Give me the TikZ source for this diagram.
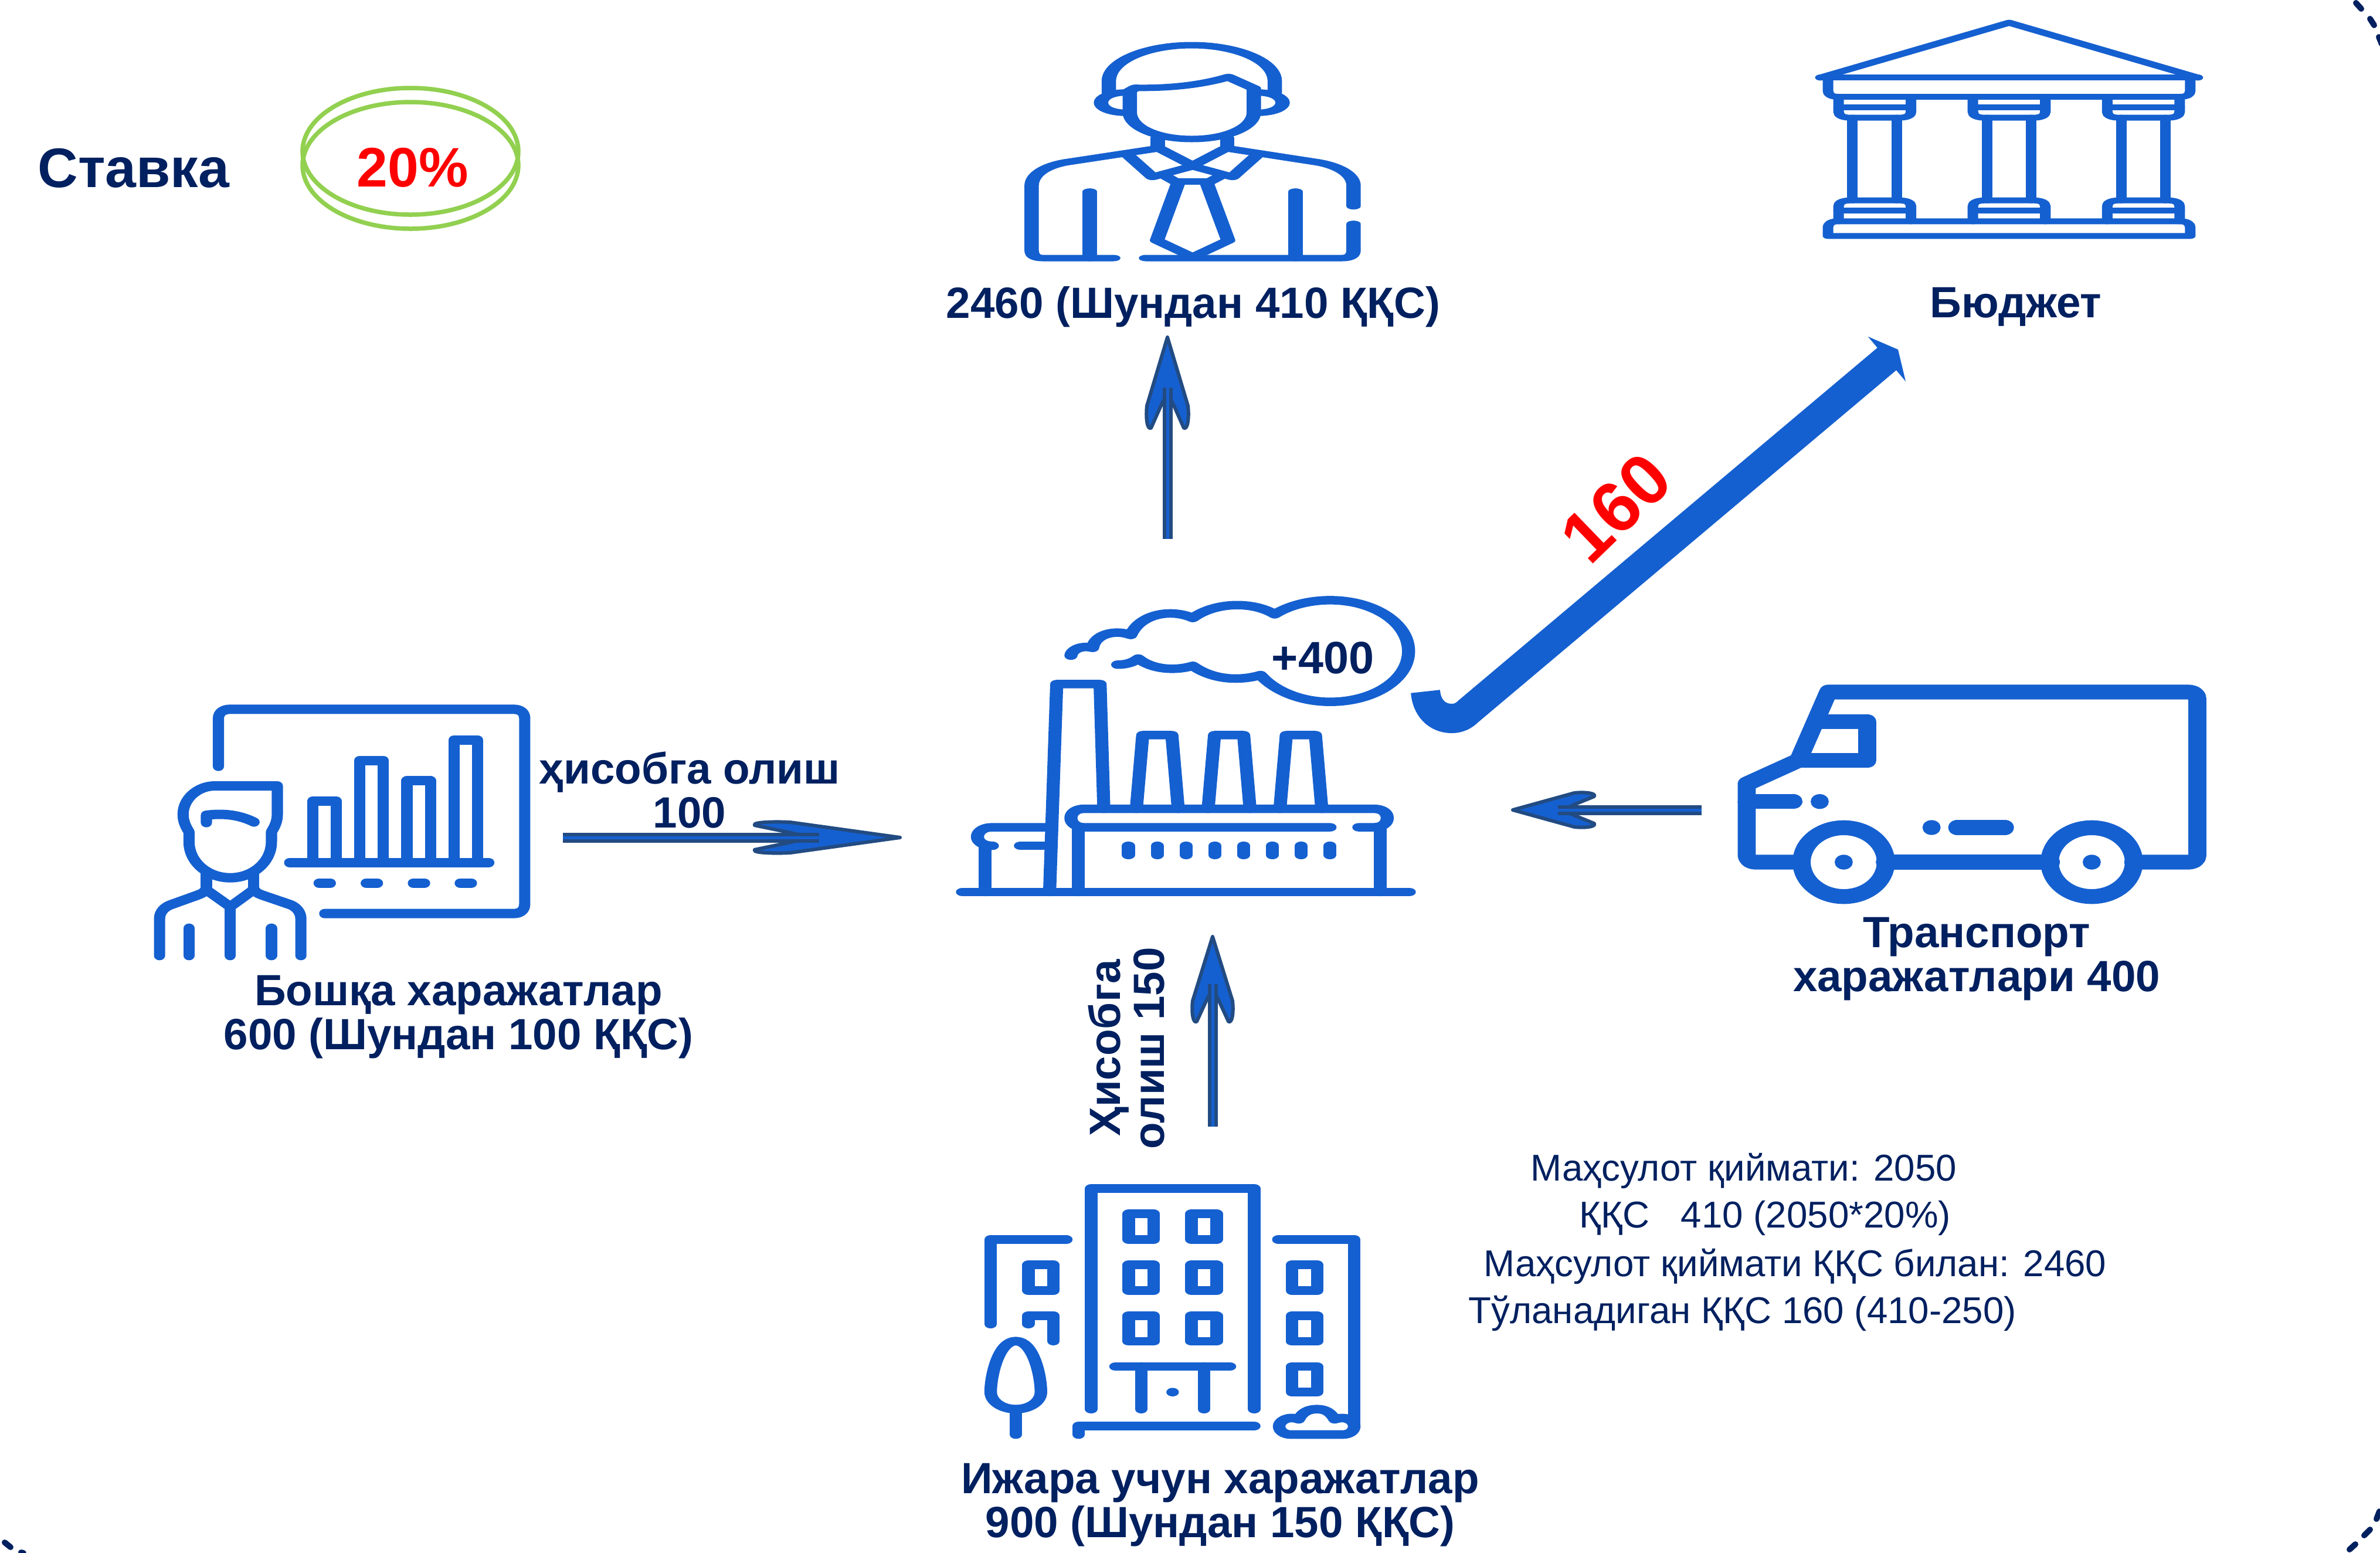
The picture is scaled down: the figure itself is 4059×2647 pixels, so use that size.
\documentclass[tikz,border=0pt]{standalone}
\usepackage{xcolor}
\usepackage{fontspec}
\setmainfont{Liberation Sans}
\usetikzlibrary{arrows.meta}
\definecolor{iconblue}{HTML}{1560D0}
\definecolor{navy}{HTML}{002060}
\definecolor{arrowdark}{HTML}{224B82}
\definecolor{ringgreen}{HTML}{92D050}
\tikzset{
    % origin x, y of the icon, then units per px in x and y, then stroke in x and y
    iconat/.style n args={6}{
        transform canvas={shift={(#1*0.01cm,-#2*0.01cm)}, xscale=(#5/#6)/#3, yscale=1/#4},
        x=0.01cm*#6/#5, y=-0.01cm, line width=#6*0.01cm,
        draw=iconblue, line cap=round, line join=round},
    label/.style={font=\fontsize{21.2}{21.3}\selectfont\bfseries, text=navy, align=center, inner sep=0pt},
    note/.style={font=\fontsize{18.1}{20}\selectfont, text=navy, anchor=west, inner sep=0pt},
    flowshaft/.style={draw=arrowdark, line width=0.06cm, double=iconblue, double distance=0.05cm, shorten >=#1*0.00545cm},
    % head of a flow arrow: length, width; tip at the origin, pointing along x
    pics/flowhead/.style 2 args={code={
        \draw[draw=arrowdark, fill=iconblue, line width=0.06cm, line join=round, line cap=round]
            (0,0) -- ({-0.74*#1},{0.5*#2}) .. controls ({-0.86*#1},{0.53*#2}) and ({-1.0*#1},{0.5*#2}) .. ({-0.98*#1},{0.4*#2})
            -- ({-0.74*#1},{0.16*#2}) -- ({-0.6*#1},0) -- ({-0.74*#1},{-0.16*#2})
            -- ({-0.98*#1},{-0.4*#2}) .. controls ({-1.0*#1},{-0.5*#2}) and ({-0.86*#1},{-0.53*#2}) .. ({-0.74*#1},{-0.5*#2}) -- cycle;
    }},
    edgemark/.style={draw=navy, line width=0.1cm, line cap=round},
}
\begin{document}
\begin{tikzpicture}[x=0.01cm, y=-0.01cm]
    \useasboundingbox (0,0) rectangle (4059,2647);

    % rate
    \node[label, font=\fontsize{27}{30}\selectfont\bfseries] (stavka) at (228,287) {Ставка};
    \draw[ringgreen, line width=0.075cm] (700,258) ellipse [x radius=184, y radius=108];
    \draw[ringgreen, line width=0.075cm] (700,282) ellipse [x radius=184, y radius=108];
    \node[label, font=\fontsize{27}{30}\selectfont\bfseries, text=red] (rate) at (704,286) {20\%};

    % factory
    \begin{scope}[iconat={1600}{950}{1.568}{2.412}{35}{35}]
        \draw (65,1377) -- (1260,1377);
        \draw (300,1111) -- (143,1111) .. controls (120,1111) and (105,1130) .. (105,1150) .. controls (105,1170) and (120,1187) .. (145,1187);
        \draw (125,1187) -- (125,1377);
        \draw (220,1187) -- (298,1187);
        \draw (298,1377) -- (317,522) -- (433,522) -- (443,1035);
        \foreach \dx in {0,192,384} {
            \draw[shift={(\dx,0)}] (530,1035) -- (547,732) -- (625,732) -- (642,1035);
        }
        \draw (1048,1111) -- (390,1111) .. controls (370,1111) and (355,1095) .. (355,1073) .. controls (355,1050) and (370,1035) .. (390,1035)
            -- (1165,1035) .. controls (1187,1035) and (1201,1050) .. (1201,1073) .. controls (1201,1095) and (1187,1111) .. (1165,1111) -- (1125,1111);
        \draw (375,1111) -- (375,1377);
        \draw (1182,1111) -- (1182,1377);
        \foreach \wx in {509,586,663,740,817,894,971,1048} {
            \draw (\wx,1187) -- (\wx,1225);
        }
        \draw (355,405) .. controls (355,385) and (380,360) .. (413,373)
            .. controls (418,320) and (470,295) .. (515,320)
            .. controls (540,235) and (620,210) .. (681,250)
            .. controls (740,185) and (840,180) .. (900,235)
            .. controls (940,197) and (995,177) .. (1048,177)
            .. controls (1165,177) and (1258,270) .. (1258,387)
            .. controls (1258,503) and (1165,595) .. (1048,595)
            .. controls (970,595) and (900,550) .. (862,485)
            .. controls (805,510) and (735,505) .. (681,447)
            .. controls (630,470) and (570,460) .. (535,417)
            .. controls (520,435) and (500,442) .. (480,442);
    \end{scope}
    \node[label, font=\fontsize{22}{24}\selectfont\bfseries] (plus) at (2256,1122) {+400};

    % employee
    \begin{scope}[iconat={1700}{40}{2.24}{3}{55}{33}]
        \draw (428,355) -- (428,295) .. controls (428,190) and (575,111) .. (745,111) .. controls (915,111) and (1062,190) .. (1062,295) -- (1062,355);
        \draw (508,455) -- (508,345) -- (530,329) .. controls (660,332) and (780,315) .. (885,274) -- (982,332) -- (982,455)
            .. controls (982,530) and (880,591) .. (745,591) .. controls (610,591) and (508,530) .. (508,455) -- cycle;
        \draw (495,353) .. controls (440,353) and (398,375) .. (398,405) .. controls (398,435) and (440,457) .. (495,457);
        \draw (995,353) .. controls (1050,353) and (1092,375) .. (1092,405) .. controls (1092,435) and (1050,457) .. (995,457);
        \draw (615,585) -- (615,640);
        \draw (880,585) -- (880,640);
        \draw (625,642) -- (748,727) -- (870,642);
        \draw (500,672) -- (595,785) -- (748,730) -- (900,785) -- (995,672);
        \draw (610,640) -- (265,710) .. controls (190,727) and (133,770) .. (133,830) -- (133,1160) .. controls (133,1190) and (150,1200) .. (175,1200) -- (445,1200);
        \draw (885,640) -- (1225,710) .. controls (1300,727) and (1363,770) .. (1363,830) -- (1363,935);
        \draw (1363,1025) -- (1363,1160) .. controls (1363,1190) and (1345,1200) .. (1320,1200) -- (570,1200);
        \draw (355,860) -- (355,1200);
        \draw (1141,860) -- (1141,1200);
        \draw (695,808) -- (612,1110) -- (748,1195) -- (884,1110) -- (800,808) -- cycle;
        \draw (650,785) -- (690,815);
        \draw (848,785) -- (805,815);
    \end{scope}
    \node[label] (salary) at (2035,523) {2460 (Шундан 410 ҚҚС)};

    % budget
    \begin{scope}[iconat={3050}{0}{1.554}{3}{28}{30}]
        \draw (85,397) -- (585,116) -- (1085,397);
        \draw (85,397) -- (1085,397);
        \draw (105,400) -- (105,465) .. controls (105,485) and (115,495) .. (132,495) -- (1038,495) .. controls (1055,495) and (1065,485) .. (1065,465) -- (1065,400);
        \draw (105,1207) -- (105,1165) .. controls (105,1142) and (115,1132) .. (132,1132) -- (1038,1132) .. controls (1055,1132) and (1065,1142) .. (1065,1165) -- (1065,1207) -- cycle;
        \foreach \dx in {0,356,712} {
            \begin{scope}[shift={(\dx,0)}]
                \draw (133,495) -- (133,572) .. controls (133,592) and (145,602) .. (165,602) -- (293,602) .. controls (313,602) and (325,592) .. (325,572) -- (325,495);
                \draw (133,548) -- (325,548);
                \draw (170,602) -- (170,1025);
                \draw (287,602) -- (287,1025);
                \draw (133,1132) -- (133,1055) .. controls (133,1035) and (145,1025) .. (165,1025) -- (293,1025) .. controls (313,1025) and (325,1035) .. (325,1055) -- (325,1132);
                \draw (133,1078) -- (325,1078);
            \end{scope}
        }
    \end{scope}
    \node[label] (budget) at (3438,523) {Бюджет};

    % other costs
    \begin{scope}[iconat={230}{1170}{2.09}{3}{40}{48}]
        \draw (298,410) -- (298,165) .. controls (298,135) and (315,118) .. (340,118) -- (1350,118) .. controls (1375,118) and (1390,135) .. (1390,165)
            -- (1390,1115) .. controls (1390,1145) and (1375,1163) .. (1350,1163) -- (677,1163);
        \draw (552,902) -- (1262,902);
        \foreach \bx/\by in {634/588,802/380,970/484,1138/275} {
            \draw (\bx,902) -- (\bx,\by) -- ({\bx+84},\by) -- ({\bx+84},902);
        }
        \foreach \dx in {657,825,993,1160} {
            \draw (\dx,1007) -- ({\dx+40},1007);
        }
        \draw (487,745) -- (487,795) .. controls (487,900) and (420,980) .. (340,980) .. controls (260,980) and (193,900) .. (193,795) -- (193,745)
            .. controls (180,715) and (172,690) .. (172,655) .. controls (172,575) and (225,510) .. (285,510) -- (508,510) -- (508,655)
            .. controls (508,690) and (500,715) .. (487,745) -- cycle;
        \draw (255,698) -- (255,660) .. controls (320,648) and (375,660) .. (425,695);
        \draw (255,960) -- (255,1025);
        \draw (423,960) -- (423,1025);
        \draw (258,1045) -- (340,1128) -- (420,1045);
        \draw (340,1128) -- (340,1378);
        \draw (255,1025) .. controls (255,1050) and (240,1060) .. (225,1068) -- (128,1118) .. controls (105,1130) and (88,1155) .. (88,1190) -- (88,1378);
        \draw (423,1025) .. controls (423,1050) and (438,1060) .. (453,1068) -- (555,1118) .. controls (575,1130) and (592,1155) .. (592,1190) -- (592,1378);
        \draw (193,1238) -- (193,1378);
        \draw (487,1238) -- (487,1378);
    \end{scope}
    \node[label] (other) at (782,1734) {Бошқа харажатлар\\600 (Шундан 100 ҚҚС)};
    \node[label] (otherrec) at (1176,1347) {ҳисобга олиш\\100};

    % transport
    \begin{scope}[iconat={2920}{1140}{1.782}{3}{55}{76}]
        \draw (272,990) -- (135,990) .. controls (115,990) and (105,975) .. (105,950) -- (105,590) -- (262,470) -- (353,120) -- (1445,120)
            .. controls (1465,120) and (1475,135) .. (1475,155) -- (1475,955) .. controls (1475,975) and (1465,990) .. (1445,990) -- (1280,990);
        \draw (525,990) -- (1030,990);
        \draw (325,272) -- (472,272) -- (472,470) -- (262,470);
        \draw (105,680) -- (247,680);
        \draw (400,990) ellipse [x radius=128, y radius=176];
        \draw (1154,990) ellipse [x radius=128, y radius=176];
        \foreach \px/\py in {327/680,400/990,1154/990,667/813} {
            \draw (\px,\py) -- (\px,\py);
        }
        \draw (745,813) -- (890,813);
    \end{scope}
    \node[label] (transport) at (3371,1635) {Транспорт\\харажатлари 400};

    % rent
    \begin{scope}[iconat={1640}{2000}{2.24}{3}{48}{44}]
        \draw (495,1208) -- (495,80) -- (1118,80) -- (1118,1208);
        \foreach \wx/\wy in {638/209,878/209,638/470,878/470,638/730,878/730,255/470,1262/470,1262/730,1262/990} {
            \draw (\wx,\wy) rectangle ({\wx+96},{\wy+131});
        }
        \draw (588,990) -- (1025,990);
        \draw (686,990) -- (686,1208);
        \draw (926,990) -- (926,1208);
        \draw (806,1121) -- (806,1121);
        \draw (447,1338) -- (447,1295) -- (1118,1295);
        \draw (111,773) -- (111,340) -- (400,340);
        \draw (255,773) -- (255,730) -- (351,730) -- (351,860);
        \draw (1210,340) -- (1500,340) -- (1500,1295);
        \draw (1258,1338) -- (1455,1338) .. controls (1482,1338) and (1500,1320) .. (1500,1295) .. controls (1500,1270) and (1470,1240) .. (1425,1260)
            .. controls (1410,1225) and (1390,1208) .. (1357,1208) .. controls (1325,1208) and (1300,1225) .. (1288,1260)
            .. controls (1245,1240) and (1213,1270) .. (1213,1295) .. controls (1213,1320) and (1232,1338) .. (1258,1338) -- cycle;
        \draw (207,860) .. controls (140,860) and (111,1040) .. (111,1120) .. controls (111,1170) and (155,1208) .. (207,1208)
            .. controls (260,1208) and (303,1170) .. (303,1120) .. controls (303,1040) and (275,860) .. (207,860) -- cycle;
        \draw (207,1208) -- (207,1338);
    \end{scope}
    \node[label] (rent) at (2081,2566) {Ижара учун харажатлар\\900 (Шундан 150 ҚҚС)};
    \node[label, rotate=90] (rentrec) at (1921,1787) {Ҳисобга\\олиш 150};

    % connectors
    \coordinate (otherout) at (960,1428);
    \coordinate (factoryleft) at (1535,1428);
    \coordinate (factorytop) at (1991,919);
    \coordinate (salaryin) at (1991,575);
    \coordinate (rentout) at (2068,1921);
    \coordinate (factorybottom) at (2068,1597);
    \coordinate (truckout) at (2902,1381);
    \coordinate (factoryright) at (2580,1381);
    \pic at (factoryleft) {flowhead={253}{52}};
    \draw[flowshaft=253] (otherout) -- (factoryleft);
    \pic[rotate=90] at (salaryin) {flowhead={158}{70}};
    \draw[flowshaft=158] (factorytop) -- (salaryin);
    \pic[rotate=90] at (factorybottom) {flowhead={148}{68}};
    \draw[flowshaft=148] (rentout) -- (factorybottom);
    \pic[rotate=180] at (factoryright) {flowhead={142}{58}};
    \draw[flowshaft=142] (truckout) -- (factoryright);

    \coordinate (cloudout) at (2431,1179);
    \coordinate (budgetin) at (3237,596);
    \draw[iconblue, line width=0.5cm, -{Triangle[length=0.25cm, width=0.99cm]}] (cloudout) .. controls (2433,1206) and (2450,1225) .. (2476,1225)
        .. controls (2488,1225) and (2497,1220) .. (2504,1213) -- (budgetin);
    \node[label, font=\fontsize{34.7}{36}\selectfont\bfseries, text=red, rotate=44] (vatdue) at (2756,866) {160};

    % calculation
    \node[note] (line1) at (2610,1996) {Маҳсулот қиймати: 2050};
    \node[note] (line2) at (2693,2077) {ҚҚС\ \ \ 410 (2050*20\%)};
    \node[note] (line3) at (2530,2159) {Маҳсулот қиймати ҚҚС билан: 2460};
    \node[note] (line4) at (2504,2239) {Тўланадиган ҚҚС 160 (410-250)};

    % frame corners
    \foreach \ax/\ay/\bx/\by in {4018/5/4027/15,4042/32/4049/43,4057/63/4062/75,8/2630/18/2638,36/2647/40/2648,4007/2642/4017/2633,4032/2618/4042/2608,4053/2590/4058/2577} {
        \draw[edgemark] (\ax,\ay) -- (\bx,\by);
    }
\end{tikzpicture}
\end{document}
